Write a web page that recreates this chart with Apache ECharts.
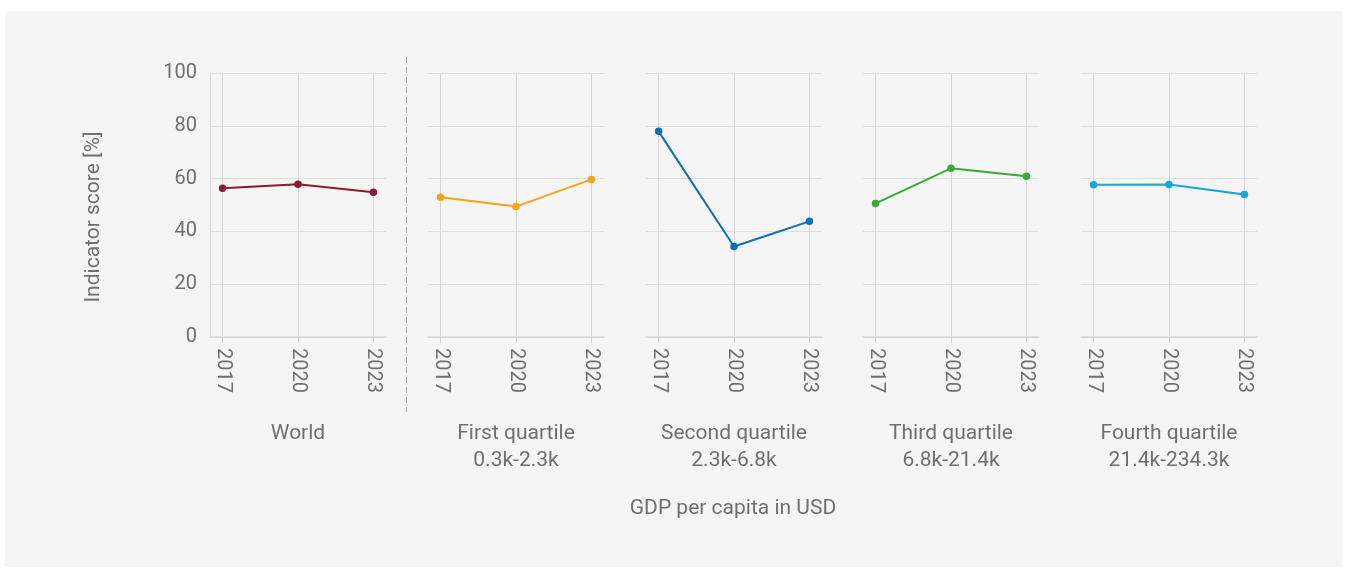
<!DOCTYPE html>
<html>
<head>
<meta charset="utf-8">
<title>Indicator score by GDP per capita</title>
<script src="https://cdn.jsdelivr.net/npm/echarts@6/dist/echarts.min.js"></script>
<style>
  html, body { margin: 0; padding: 0; background: #ffffff; }
  #chart { width: 1347px; height: 569px; }
</style>
</head>
<body>
<div id="chart"></div>
<script>
// data
var years = [2017, 2020, 2023];
var panelNames = ['World', 'First quartile', 'Second quartile', 'Third quartile', 'Fourth quartile'];
var panelRanges = ['', '0.3k-2.3k', '2.3k-6.8k', '6.8k-21.4k', '21.4k-234.3k'];
var worldScores = [56.3, 57.9, 54.8];
var firstScores = [52.9, 49.4, 59.7];
var secondScores = [77.9, 34.3, 43.8];
var thirdScores = [50.6, 63.9, 60.9];
var fourthScores = [57.7, 57.8, 54.0];
var yTicks = [0, 20, 40, 60, 80, 100];

var panelScores = [worldScores, firstScores, secondScores, thirdScores, fourthScores];
var panelColors = ['#8b1a32', '#f5a31a', '#0a71b4', '#3aa935', '#11a8dc'];
var panelLeft = [210, 428, 646, 863, 1081];

var textColor = '#6f6f6f';
var fontFam = 'Roboto, "Noto Sans", sans-serif';

var grids = [], xAxes = [], yAxes = [], series = [];

for (var i = 0; i < panelNames.length; i++) {
	grids.push({ left: panelLeft[i], top: 73, width: 176, height: 264 });

	var nm = panelRanges[i] ? panelNames[i] + '\n' + panelRanges[i] : panelNames[i];
	xAxes.push({
		type: 'value', gridIndex: i,
		min: 2016.5, max: 2023.5,
		name: nm, nameLocation: 'middle', nameGap: 83,
		nameTextStyle: { color: textColor, fontSize: 21, fontFamily: fontFam, lineHeight: 27, verticalAlign: 'top' },
		axisLine: { show: true, lineStyle: { color: '#d8d8d8', width: 1.5 } },
		axisTick: { show: true, length: 6, customValues: years, lineStyle: { color: '#cfcfcf' } },
		axisLabel: {
			customValues: years, rotate: -90, margin: 11,
			color: textColor, fontSize: 20, fontFamily: fontFam,
			formatter: function (v) { return String(v); }
		},
		splitLine: { show: true, lineStyle: { color: '#d6d6d6' } }
	});

	yAxes.push({
		type: 'value', gridIndex: i,
		min: yTicks[0], max: yTicks[yTicks.length - 1], interval: 20,
		axisLine: { show: i === 0, lineStyle: { color: '#d6d6d6' } },
		axisTick: { show: false },
		axisLabel: { show: i === 0, margin: 13, color: textColor, fontSize: 20, fontFamily: fontFam },
		splitLine: { show: true, lineStyle: { color: '#dedede' } }
	});

	var pts = [];
	for (var j = 0; j < years.length; j++) {
		pts.push([years[j], panelScores[i][j]]);
	}
	series.push({
		type: 'line', xAxisIndex: i, yAxisIndex: i,
		data: pts,
		symbol: 'circle', symbolSize: 7.5,
		lineStyle: { color: panelColors[i], width: 2 },
		itemStyle: { color: panelColors[i] },
		silent: true, animation: false
	});
}

var chart = echarts.init(document.getElementById('chart'));
chart.setOption({
	backgroundColor: '#ffffff',
	animation: false,
	graphic: [
		{ type: 'rect', z: -100, silent: true,
		  shape: { x: 5, y: 11, width: 1337, height: 556 },
		  style: { fill: '#f5f5f5' } },
		{ type: 'line', z: 10, silent: true,
		  shape: { x1: 406.5, y1: 57, x2: 406.5, y2: 412 },
		  style: { stroke: '#a6a6a6', lineWidth: 1, lineDash: [6, 4] } },
		{ type: 'text', z: 10, silent: true, x: 94, y: 217, rotation: Math.PI / 2,
		  style: { text: 'Indicator score [%]', fill: textColor, fontSize: 21, fontFamily: fontFam,
		           align: 'center', verticalAlign: 'middle' } },
		{ type: 'text', z: 10, silent: true, x: 733, y: 509,
		  style: { text: 'GDP per capita in USD', fill: textColor, fontSize: 21, fontFamily: fontFam,
		           align: 'center', verticalAlign: 'middle' } }
	],
	grid: grids,
	xAxis: xAxes,
	yAxis: yAxes,
	series: series
});
</script>
</body>
</html>
